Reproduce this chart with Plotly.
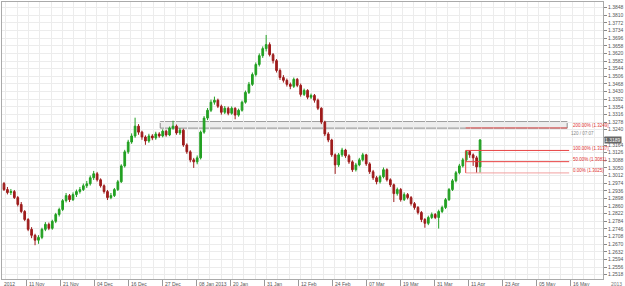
import plotly.graph_objects as go

# ---- data ----
open_ = [1.2972,1.2942,1.2927,1.2932,1.2902,1.2868,1.2833,1.2793,1.2744,1.2714,
         1.2690,1.2704,1.2744,1.2769,1.2749,1.2784,1.2818,1.2843,1.2887,1.2912,
         1.2892,1.2917,1.2932,1.2942,1.2961,1.2971,1.3001,1.3021,1.2991,1.2961,
         1.2932,1.2902,1.2912,1.2942,1.2981,1.3060,1.3130,1.3179,1.3209,1.3258,
         1.3228,1.3204,1.3184,1.3209,1.3199,1.3219,1.3209,1.3233,1.3214,1.3248,
         1.3258,1.3224,1.3238,1.3164,1.3130,1.3090,1.3080,1.3100,1.3228,1.3298,
         1.3337,1.3377,1.3387,1.3357,1.3327,1.3347,1.3322,1.3347,1.3313,1.3337,
         1.3377,1.3426,1.3466,1.3515,1.3565,1.3609,1.3644,1.3664,1.3614,1.3584,
         1.3535,1.3500,1.3486,1.3466,1.3456,1.3491,1.3461,1.3416,1.3436,1.3402,
         1.3411,1.3387,1.3347,1.3278,1.3219,1.3189,1.3115,1.3065,1.3115,1.3139,
         1.3110,1.3080,1.3041,1.3065,1.3090,1.3115,1.3070,1.3031,1.3001,1.2981,
         1.3006,1.3041,1.2991,1.2966,1.2922,1.2942,1.2892,1.2917,1.2902,1.2872,
         1.2853,1.2828,1.2793,1.2774,1.2803,1.2818,1.2803,1.2833,1.2853,1.2892,
         1.2942,1.2986,1.3026,1.3060,1.3090,1.3132,1.3115,1.3100,1.3055]
high = [1.2980,1.2955,1.2945,1.2940,1.2910,1.2880,1.2840,1.2800,1.2755,1.2722,
        1.2715,1.2752,1.2780,1.2778,1.2792,1.2826,1.2852,1.2895,1.2925,1.2920,
        1.2928,1.2942,1.2955,1.2972,1.2985,1.3012,1.3035,1.3030,1.2998,1.2968,
        1.2940,1.2925,1.2950,1.2990,1.3068,1.3140,1.3190,1.3222,1.3300,1.3268,
        1.3235,1.3212,1.3220,1.3218,1.3230,1.3228,1.3242,1.3240,1.3256,1.3285,
        1.3266,1.3248,1.3245,1.3172,1.3138,1.3100,1.3112,1.3236,1.3308,1.3348,
        1.3390,1.3405,1.3395,1.3365,1.3358,1.3355,1.3356,1.3352,1.3345,1.3385,
        1.3435,1.3478,1.3525,1.3575,1.3620,1.3655,1.3712,1.3675,1.3622,1.3592,
        1.3545,1.3512,1.3495,1.3475,1.3500,1.3498,1.3470,1.3445,1.3442,1.3420,
        1.3418,1.3395,1.3352,1.3285,1.3228,1.3195,1.3122,1.3124,1.3150,1.3145,
        1.3118,1.3088,1.3075,1.3100,1.3125,1.3120,1.3078,1.3040,1.3010,1.3015,
        1.3052,1.3048,1.2998,1.2972,1.2952,1.2950,1.2928,1.2925,1.2910,1.2880,
        1.2860,1.2835,1.2800,1.2812,1.2828,1.2825,1.2842,1.2862,1.2900,1.2950,
        1.2995,1.3035,1.3070,1.3100,1.3137,1.3137,1.3122,1.3110,1.3194]
low = [1.2935,1.2918,1.2915,1.2895,1.2858,1.2825,1.2785,1.2735,1.2700,1.2665,
       1.2672,1.2695,1.2735,1.2740,1.2742,1.2775,1.2808,1.2835,1.2878,1.2880,
       1.2885,1.2905,1.2922,1.2935,1.2950,1.2962,1.2990,1.2982,1.2952,1.2922,
       1.2890,1.2894,1.2905,1.2935,1.2975,1.3052,1.3120,1.3170,1.3200,1.3215,
       1.3190,1.3165,1.3175,1.3188,1.3190,1.3200,1.3202,1.3205,1.3208,1.3240,
       1.3215,1.3214,1.3155,1.3120,1.3078,1.3050,1.3068,1.3092,1.3220,1.3288,
       1.3328,1.3365,1.3348,1.3315,1.3318,1.3312,1.3315,1.3292,1.3305,1.3330,
       1.3370,1.3418,1.3458,1.3505,1.3555,1.3598,1.3630,1.3605,1.3570,1.3525,
       1.3488,1.3475,1.3455,1.3442,1.3448,1.3452,1.3405,1.3408,1.3392,1.3393,
       1.3375,1.3338,1.3268,1.3208,1.3178,1.3105,1.3020,1.3055,1.3105,1.3100,
       1.3070,1.3030,1.3032,1.3058,1.3082,1.3060,1.3020,1.2990,1.2968,1.2972,
       1.2998,1.2982,1.2955,1.2880,1.2912,1.2882,1.2885,1.2893,1.2862,1.2842,
       1.2818,1.2780,1.2752,1.2765,1.2795,1.2795,1.2748,1.2825,1.2845,1.2885,
       1.2935,1.2978,1.3018,1.3052,1.3082,1.3100,1.3060,1.3025,1.3026]
close = [1.2942,1.2927,1.2932,1.2902,1.2868,1.2833,1.2793,1.2744,1.2714,1.2690,
         1.2704,1.2744,1.2769,1.2749,1.2784,1.2818,1.2843,1.2887,1.2912,1.2892,
         1.2917,1.2932,1.2942,1.2961,1.2971,1.3001,1.3021,1.2991,1.2961,1.2932,
         1.2902,1.2912,1.2942,1.2981,1.3060,1.3130,1.3179,1.3209,1.3258,1.3228,
         1.3204,1.3184,1.3209,1.3199,1.3219,1.3209,1.3233,1.3214,1.3248,1.3258,
         1.3224,1.3238,1.3164,1.3130,1.3090,1.3080,1.3100,1.3228,1.3298,1.3337,
         1.3377,1.3387,1.3357,1.3327,1.3347,1.3322,1.3347,1.3313,1.3337,1.3377,
         1.3426,1.3466,1.3515,1.3565,1.3609,1.3644,1.3664,1.3614,1.3584,1.3535,
         1.3500,1.3486,1.3466,1.3456,1.3491,1.3461,1.3416,1.3436,1.3402,1.3411,
         1.3387,1.3347,1.3278,1.3219,1.3189,1.3115,1.3065,1.3115,1.3139,1.3110,
         1.3080,1.3041,1.3065,1.3090,1.3115,1.3070,1.3031,1.3001,1.2981,1.3006,
         1.3041,1.2991,1.2966,1.2922,1.2942,1.2892,1.2917,1.2902,1.2872,1.2853,
         1.2828,1.2793,1.2774,1.2803,1.2818,1.2803,1.2833,1.2853,1.2892,1.2942,
         1.2986,1.3026,1.3060,1.3090,1.3132,1.3115,1.3100,1.3055,1.3189]

date_labels = ["11 Nov", "21 Nov", "04 Dec", "16 Dec", "27 Dec", "08 Jan 2013", "20 Jan",
               "31 Jan", "12 Feb", "24 Feb", "07 Mar", "19 Mar", "31 Mar", "11 Apr",
               "23 Apr", "05 May", "16 May"]
price_ticks = [1.2518, 1.2556, 1.2594, 1.2632, 1.2670, 1.2708, 1.2746, 1.2784, 1.2822,
               1.2860, 1.2898, 1.2936, 1.2974, 1.3012, 1.3050, 1.3088, 1.3126, 1.3164,
               1.3202, 1.3240, 1.3278, 1.3316, 1.3354, 1.3392, 1.3430, 1.3468, 1.3506,
               1.3544, 1.3582, 1.3620, 1.3658, 1.3696, 1.3734, 1.3772, 1.3810, 1.3848,
               1.3886]

fib_levels = [1.3249, 1.3137, 1.3081, 1.3025]
fib_names = ["200.00%", "100.00%", "50.00%", "0.00%"]
zone = [1.3248, 1.3280]
timer_text = "120 / 07:07"

# ---- figure ----
W, H = 625, 286
L, R, T, B = 1, 20, 1, 6
px_per_bar = 3.467
x0_px = 3.0
p_top, p_per_px = 1.38811, 0.00049442


def xi(px):
    return (px - x0_px) / px_per_bar


n = len(close)
x = list(range(n))
last_price = close[-1]

fig = go.Figure()
fig.add_trace(go.Candlestick(
    x=x, open=open_, high=high, low=low, close=close,
    increasing=dict(line=dict(color="#22a022", width=1), fillcolor="#22a022"),
    decreasing=dict(line=dict(color="#9e1c1c", width=1), fillcolor="#9e1c1c"),
    whiskerwidth=0, showlegend=False, hoverinfo="skip"))

tick0 = xi(25.5)
tstep = 34.15 / px_per_bar
xticks = [tick0 + k * tstep for k in range(len(date_labels))]
minor = [xi(5) + k * tstep / 3 for k in range(60)]

ytext = []
for v in price_ticks:
    ytext.append("" if abs(v - last_price) < 0.0019 else f"{v:.4f}")

fig.update_layout(
    width=W, height=H, margin=dict(l=L, r=R, t=T, b=B),
    paper_bgcolor="white", plot_bgcolor="white",
    font=dict(family="Liberation Sans, Arial", size=5, color="#555"),
    xaxis=dict(range=[xi(L), xi(W - R)], rangeslider=dict(visible=False),
               showgrid=False, tickvals=xticks, showticklabels=False,
               ticks="outside", ticklen=6, tickcolor="#999", tickwidth=1,
               showline=True, linecolor="#aaa", mirror=True, zeroline=False,
               minor=dict(tickvals=minor, showgrid=True, gridcolor="#ececec",
                          gridwidth=1, ticks="")),
    yaxis=dict(side="right", range=[p_top - p_per_px * (H - B), p_top - p_per_px * T],
               tickvals=price_ticks, ticktext=ytext,
               ticks="outside", ticklen=3, tickcolor="#888",
               showgrid=True, gridcolor="#ececec", gridwidth=1,
               showline=True, linecolor="#aaa", mirror=True, zeroline=False,
               tickfont=dict(size=5, color="#555")),
)

# date labels (left aligned after tick)
for xv, lab in zip(xticks, date_labels):
    fig.add_annotation(x=xv, y=0, xref="x", yref="paper", text=lab, showarrow=False,
                       xanchor="left", yanchor="top", xshift=1,
                       font=dict(size=5, color="#555"))
fig.add_annotation(x=0, y=0, xref="paper", yref="paper", text="2012", showarrow=False,
                   xanchor="left", yanchor="top", font=dict(size=5, color="#555"))
fig.add_annotation(x=1, y=0, xref="paper", yref="paper", text="2013", showarrow=False,
                   xanchor="left", yanchor="top", xshift=6, font=dict(size=5, color="#777"))

# zone rectangle
fig.add_shape(type="rect", x0=xi(160), x1=xi(569), y0=zone[0], y1=zone[1],
              line=dict(color="#8a8a8a", width=1), fillcolor="rgba(225,225,225,0.6)",
              layer="below")

# fib lines
fx0, fx1 = xi(467), xi(571)
fib_colors = ["#e85050", "#e84040", "#e84040", "#f2a0a0"]
for lv, nm, col in zip(fib_levels, fib_names, fib_colors):
    x_end = xi(569) if nm == "200.00%" else fx1
    fig.add_shape(type="line", x0=fx0, x1=x_end, y0=lv, y1=lv, line=dict(color=col, width=1))
    fig.add_annotation(x=xi(573), y=lv, xref="x", yref="y", text=f"{nm} ({lv:.4f})",
                       showarrow=False, xanchor="left", yanchor="middle", yshift=2,
                       font=dict(size=4.5, color="#e03030"))
fig.add_shape(type="line", x0=fx0, x1=fx0, y0=fib_levels[1], y1=fib_levels[3],
              line=dict(color="#e84040", width=1))

fig.add_annotation(x=xi(571), y=zone[0], xref="x", yref="y", text=timer_text,
                   showarrow=False, xanchor="left", yanchor="top", yshift=-1,
                   font=dict(size=4.5, color="#888"))

# last price box
fig.add_annotation(x=1, y=last_price, xref="paper", yref="y", text=f"{last_price:.4f}",
                   showarrow=False, xanchor="left", yanchor="middle", xshift=1,
                   bgcolor="#666", font=dict(size=5, color="white"), borderpad=0)

fig.write_html("out.html")
